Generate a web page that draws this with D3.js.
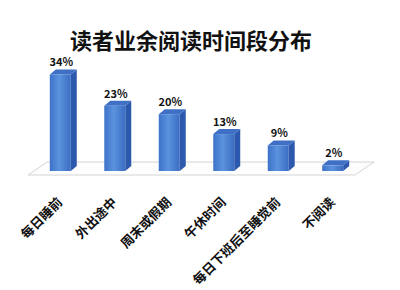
<!DOCTYPE html>
<html>
<head>
<meta charset="utf-8">
<script src="https://cdn.jsdelivr.net/npm/d3@7"></script>
<style>
  body { margin: 0; background: #fff; }
  svg { display: block; }
</style>
</head>
<body>
<script>
var categories = ["每日睡前", "外出途中", "周末或假期", "午休时间", "每日下班后至睡觉前", "不阅读"];
var values = [34, 23, 20, 13, 9, 2];
var valueLabels = ["34%", "23%", "20%", "13%", "9%", "2%"];
var title = "读者业余阅读时间段分布";

var width = 400, height = 290,
    baseY = 171,
    depth = { dx: 6, dy: -5 },
    floorDepth = { dx: 19, dy: -13 };

var svg = d3.select("body").append("svg")
    .attr("width", width)
    .attr("height", height);

var defs = svg.append("defs");
var grad = defs.append("linearGradient")
    .attr("id", "front")
    .attr("x1", "0%").attr("x2", "100%")
    .attr("y1", "0%").attr("y2", "0%");
grad.append("stop").attr("offset", "0%").attr("stop-color", "#3d72c9");
grad.append("stop").attr("offset", "45%").attr("stop-color", "#5b93de");
grad.append("stop").attr("offset", "100%").attr("stop-color", "#3b6cc2");

var x = d3.scaleBand()
    .domain(categories)
    .range([28, 365])
    .paddingInner(0.615)
    .paddingOuter(0.4);

var y = d3.scaleLinear()
    .domain([0, 35])
    .range([baseY, 71.6]);

// floor
var fx0 = x.range()[0], fx1 = x.range()[1] - 10, fy = baseY + 4;
svg.append("path")
    .attr("d", "M" + fx0 + "," + fy +
        "L" + fx1 + "," + fy +
        "L" + (fx1 + floorDepth.dx) + "," + (fy + floorDepth.dy) +
        "L" + (fx0 + floorDepth.dx) + "," + (fy + floorDepth.dy) + "Z")
    .attr("fill", "#fdfdfd")
    .attr("stroke", "#d4d4d4")
    .attr("stroke-width", 1);

// title
svg.append("text")
    .attr("x", 191)
    .attr("y", 49)
    .attr("text-anchor", "middle")
    .attr("font-family", "Noto Sans CJK SC")
    .attr("font-weight", "bold")
    .attr("font-size", "22px")
    .attr("fill", "#111")
    .text(title);

var bars = svg.selectAll("g.bar")
    .data(categories)
    .enter().append("g")
    .attr("class", "bar");

// side face
bars.append("path")
    .attr("d", function (d, i) {
        var x1 = x(d) + x.bandwidth(), yt = y(values[i]);
        return "M" + x1 + "," + baseY +
            "L" + x1 + "," + yt +
            "L" + (x1 + depth.dx) + "," + (yt + depth.dy) +
            "L" + (x1 + depth.dx) + "," + (baseY + depth.dy) + "Z";
    })
    .attr("fill", "#2c59ad");

// top face
bars.append("path")
    .attr("d", function (d, i) {
        var x0 = x(d), x1 = x0 + x.bandwidth(), yt = y(values[i]);
        return "M" + x0 + "," + yt +
            "L" + x1 + "," + yt +
            "L" + (x1 + depth.dx) + "," + (yt + depth.dy) +
            "L" + (x0 + depth.dx) + "," + (yt + depth.dy) + "Z";
    })
    .attr("fill", "#3f70c6");

// front face
bars.append("rect")
    .attr("x", function (d) { return x(d); })
    .attr("y", function (d, i) { return y(values[i]); })
    .attr("width", x.bandwidth())
    .attr("height", function (d, i) { return baseY - y(values[i]); })
    .attr("fill", "url(#front)");

// value labels
bars.append("text")
    .attr("x", function (d) { return x(d) + x.bandwidth() / 2 + 1; })
    .attr("y", function (d, i) { return y(values[i]) - 8; })
    .attr("text-anchor", "middle")
    .attr("font-family", "Noto Sans CJK SC")
    .attr("font-weight", "bold")
    .attr("font-size", "11px")
    .attr("fill", "#111")
    .text(function (d, i) { return valueLabels[i]; });

// category labels
bars.append("text")
    .attr("transform", function (d) {
        return "translate(" + (x(d) + x.bandwidth() / 2 + 3) + "," + 203 + ") rotate(-45)";
    })
    .attr("text-anchor", "end")
    .attr("font-family", "Noto Sans CJK SC")
    .attr("font-weight", "bold")
    .attr("font-size", "13px")
    .attr("fill", "#111")
    .text(function (d) { return d; });
</script>
</body>
</html>
